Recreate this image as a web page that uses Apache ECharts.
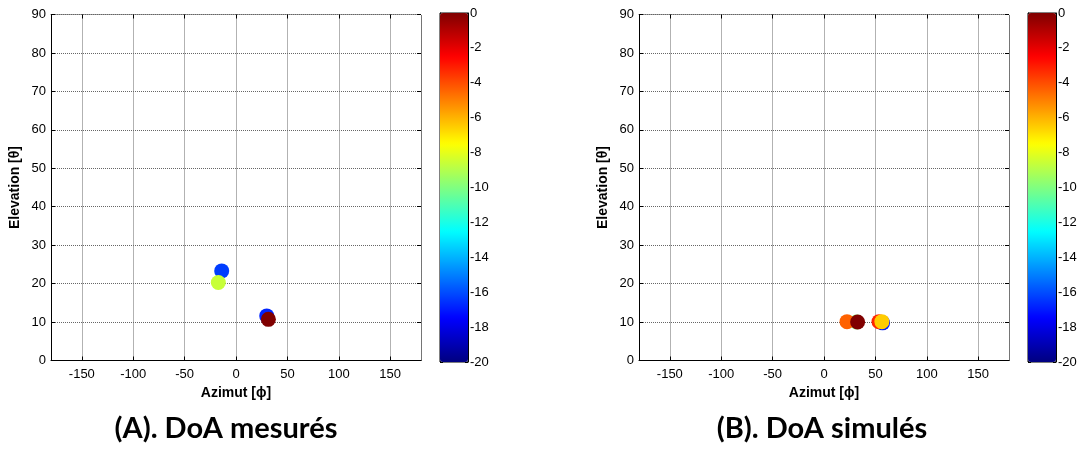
<!DOCTYPE html>
<html>
<head>
<meta charset="utf-8">
<script src="https://cdn.jsdelivr.net/npm/echarts@6/dist/echarts.min.js"></script>
<style>
  html, body { margin: 0; padding: 0; background: #fff; }
  #chart { width: 1080px; height: 450px; }
</style>
</head>
<body>
<div id="chart"></div>
<script>
// DoA points: [azimut, elevation, power dB]
const measured = [
  [-13.9, 23.3, -16.3],
  [-17.2, 20.3, -8.6],
  [29.9, 11.6, -16.8],
  [31.5, 10.7, 0]
]
const simulated = [
  [31.7, 10.0, -10],
  [22.4, 10.1, -4.4],
  [32.7, 10.0, 0],
  [57.0, 9.8, -17],
  [53.5, 10.1, -3.2],
  [56.3, 10.1, -6.5]
]
const azTicks = [-150, -100, -50, 0, 50, 100, 150]
const titles = ['(A). DoA mesurés', '(B). DoA simulés']
const jet = ['#000080', '#0000ff', '#0080ff', '#00ffff', '#80ff80', '#ffff00', '#ff8000', '#ff0000', '#800000']

const font = 'Liberation Sans'
const panels = [
  { left: 51, cbLeft: 440, cx: 221, data: measured },
  { left: 639, cbLeft: 1028, cx: 817, data: simulated }
]

const grid = []
const xAxis = []
const yAxis = []
const series = []
const visualMap = []
const title = []

const dotted = { color: '#666', type: [1, 1], width: 1 }

panels.forEach((p, i) => {
  const g = grid.length
  // main plot
  grid.push({ left: p.left, top: 14.5, width: 370, height: 346 })
  // colorbar frame
  grid.push({ left: p.cbLeft, top: 13, width: 28, height: 349, show: true, borderColor: '#000', borderWidth: 1 })

  const xBottom = xAxis.length
  xAxis.push({
    gridIndex: g, type: 'value', min: -180, max: 180, position: 'bottom',
    name: 'Azimut [ϕ]', nameLocation: 'middle', nameGap: 26,
    nameTextStyle: { fontFamily: font, fontWeight: 'bold', fontSize: 14, color: '#000' },
    axisLine: { onZero: false, lineStyle: { color: '#000' } },
    axisTick: { inside: true, length: 4, customValues: azTicks, lineStyle: { color: '#000' } },
    axisLabel: { customValues: azTicks, fontFamily: font, fontSize: 13, color: '#000', margin: 7 },
    splitLine: { show: true, lineStyle: dotted }
  })
  xAxis.push({
    gridIndex: g, type: 'value', min: -180, max: 180, position: 'top',
    axisLine: { onZero: false, lineStyle: dotted },
    axisTick: { inside: true, length: 4, customValues: azTicks, lineStyle: { color: '#000' } },
    axisLabel: { show: false }, splitLine: { show: false }
  })
  xAxis.push({ gridIndex: g + 1, type: 'value', min: 0, max: 1, show: false })

  const yLeft = yAxis.length
  yAxis.push({
    gridIndex: g, type: 'value', min: 0, max: 90, interval: 10, position: 'left',
    name: 'Elevation [θ]', nameLocation: 'middle', nameGap: 29,
    nameTextStyle: { fontFamily: font, fontWeight: 'bold', fontSize: 14, color: '#000' },
    axisLine: { show: true, onZero: false, lineStyle: { color: '#000' } },
    axisTick: { show: true, inside: true, length: 4, lineStyle: { color: '#000' } },
    axisLabel: { fontFamily: font, fontSize: 13, color: '#000', margin: 5 },
    splitLine: { show: true, lineStyle: dotted }
  })
  yAxis.push({
    gridIndex: g, type: 'value', min: 0, max: 90, interval: 10, position: 'right',
    axisLine: { show: true, onZero: false, lineStyle: dotted },
    axisTick: { show: true, inside: true, length: 4, lineStyle: { color: '#000' } },
    axisLabel: { show: false }, splitLine: { show: false }
  })
  // colorbar scale
  yAxis.push({
    gridIndex: g + 1, type: 'value', min: -20, max: 0, interval: 2, position: 'right',
    axisLine: { show: true, onZero: false, lineStyle: { color: '#000' } },
    axisTick: { show: true, inside: true, length: 3, lineStyle: { color: '#000' } },
    axisLabel: { fontFamily: font, fontSize: 13, color: '#000', margin: 2 },
    splitLine: { show: false }
  })
  yAxis.push({
    gridIndex: g + 1, type: 'value', min: -20, max: 0, interval: 2, position: 'left',
    axisLine: { show: true, onZero: false, lineStyle: { color: '#000' } },
    axisTick: { show: true, inside: true, length: 3, lineStyle: { color: '#000' } },
    axisLabel: { show: false }, splitLine: { show: false }
  })

  series.push({
    type: 'scatter', xAxisIndex: xBottom, yAxisIndex: yLeft,
    symbolSize: 15, data: p.data, z: 5,
    itemStyle: { opacity: 1 }
  })

  visualMap.push({
    type: 'continuous', seriesIndex: i, dimension: 2, min: -20, max: 0,
    calculable: false, realtime: false, text: null, showLabel: false,
    left: p.cbLeft, top: 13, itemWidth: 28, itemHeight: 349, padding: 0,
    inRange: { color: jet, opacity: 1 }, z: 1
  })

  title.push({
    text: titles[i], left: p.cx, top: 409, textAlign: 'center',
    textStyle: { fontFamily: 'Lato', fontWeight: 'bold', fontSize: 29, color: '#000' }
  })
})

const chart = echarts.init(document.getElementById('chart'))
chart.setOption({
  animation: false,
  backgroundColor: '#fff',
  title, grid, xAxis, yAxis, series, visualMap
})
</script>
</body>
</html>
